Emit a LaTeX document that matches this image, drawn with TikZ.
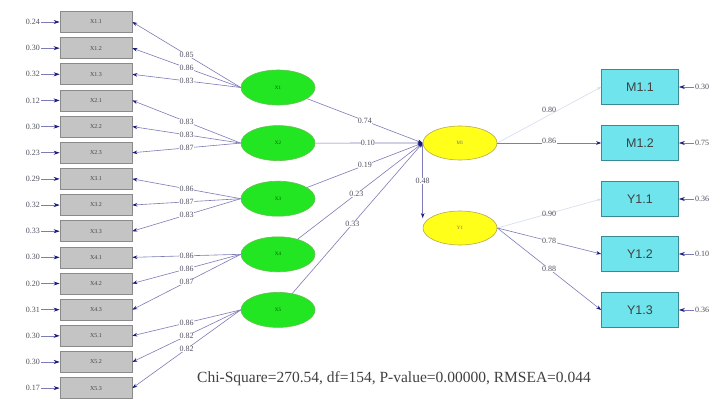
\documentclass[tikz,border=0pt]{standalone}
\usepackage{fontspec}
\setmainfont{Liberation Serif}
\setsansfont{Liberation Sans}
\usetikzlibrary{arrows.meta,shapes.geometric}
\definecolor{boxgray}{HTML}{C4C4C4}
\definecolor{boxedge}{HTML}{8A8A8A}
\definecolor{lvgreen}{HTML}{22E622}
\definecolor{lvgreenedge}{HTML}{66C050}
\definecolor{lvyellow}{HTML}{FFFF1A}
\definecolor{lvyellowedge}{HTML}{B8A850}
\definecolor{obscyan}{HTML}{70E4EC}
\definecolor{obsedge}{HTML}{3A8A96}
\definecolor{pathcol}{HTML}{7C7CB8}
\definecolor{tipcol}{HTML}{1A1A80}
\definecolor{fixcol}{HTML}{D4DCEE}
\definecolor{labcol}{HTML}{505060}
\begin{document}
\begin{tikzpicture}[x=1pt,y=-1pt,
  leftbox/.style={draw=boxedge, line width=0.7pt, fill=boxgray, minimum width=72pt, minimum height=21pt, inner sep=0pt, font=\fontsize{6}{7}\selectfont, text=gray!55!black},
  obsbox/.style={draw=obsedge, line width=0.7pt, fill=obscyan, minimum width=77pt, minimum height=35pt, inner sep=0pt, font=\sffamily\fontsize{12.5}{14}\selectfont, text=black!75},
  greenlv/.style={ellipse, draw=lvgreenedge, line width=0.6pt, fill=lvgreen, minimum width=74pt, minimum height=35pt, inner sep=0pt, font=\fontsize{5}{6}\selectfont, text=green!35!black},
  yellowlv/.style={ellipse, draw=lvyellowedge, line width=0.6pt, fill=lvyellow, minimum width=74pt, minimum height=34pt, inner sep=0pt, font=\fontsize{5}{6}\selectfont, text=black!55, align=center},
  errlab/.style={font=\fontsize{8}{9}\selectfont, text=labcol, inner sep=1pt},
  coef/.style={font=\fontsize{8}{9}\selectfont, text=labcol, fill=white, inner sep=0.3pt},
  pth/.style={draw=pathcol, line width=0.6pt, -{Stealth[length=5pt,width=3.6pt,color=tipcol]}},
  fixpth/.style={draw=fixcol, line width=0.6pt, -{Stealth[length=4pt,width=3pt,color=fixcol]}},
  errarr/.style={draw=pathcol, line width=0.6pt, -{Stealth[length=6pt,width=4pt,color=tipcol]}}
]
\useasboundingbox[fill=white] (0,0) rectangle (720,401);

% left indicator boxes with error terms
\foreach \i/\lab/\err in {1/X1.1/0.24, 2/X1.2/0.30, 3/X1.3/0.32, 4/X2.1/0.12, 5/X2.2/0.30, 6/X2.3/0.23, 7/X3.1/0.29, 8/X3.2/0.32, 9/X3.3/0.33, 10/X4.1/0.30, 11/X4.2/0.20, 12/X4.3/0.31, 13/X5.1/0.30, 14/X5.2/0.30, 15/X5.3/0.17} {
  \node[leftbox] (b\i) at (96,{22+26.15*(\i-1)}) {\lab};
  \node[errlab, anchor=east] (e\i) at (41,{22+26.15*(\i-1)}) {\err};
  \draw[errarr] (e\i) -- (b\i);
}

% green exogenous latent variables
\foreach \g/\lab in {1/X1, 2/X2, 3/X3, 4/X4, 5/X5} {
  \node[greenlv] (g\g) at (278,{87.5+55.6*(\g-1)}) {\lab};
}

% loadings
\foreach \g/\a/\b/\c/\la/\lb/\lc in {1/1/2/3/0.85/0.86/0.83, 2/4/5/6/0.83/0.83/0.87, 3/7/8/9/0.86/0.87/0.83, 4/10/11/12/0.86/0.86/0.87, 5/13/14/15/0.86/0.82/0.82} {
  \draw[pth] (g\g.west) -- node[coef, pos=0.5] {\la} (b\a.east);
  \draw[pth] (g\g.west) -- node[coef, pos=0.5] {\lb} (b\b.east);
  \draw[pth] (g\g.west) -- node[coef, pos=0.5] {\lc} (b\c.east);
}

% yellow endogenous latent variables
\node[yellowlv] (m) at (460,143) {M1};
\node[yellowlv] (y) at (460,228) {Y1};

% structural paths
\draw[pth] (g1) -- node[coef, pos=0.5] {0.74} (m.west);
\draw[pth] (g2) -- node[coef, pos=0.49] {0.10} (m.west);
\draw[pth] (g3) -- node[coef, pos=0.5] {0.19} (m.west);
\draw[pth] (g4) -- node[coef, pos=0.47] {0.23} (m.west);
\draw[pth] (g5) -- node[coef, pos=0.46] {0.33} (m.west);
\draw[pth] (m.west) -- node[coef, pos=0.5] {0.48} (m.west |- y.162);

% right indicator boxes
\node[obsbox] (m11) at (640,87) {M1.1};
\node[obsbox] (m12) at (640,143) {M1.2};
\node[obsbox] (y11) at (640,199) {Y1.1};
\node[obsbox] (y12) at (640,254) {Y1.2};
\node[obsbox] (y13) at (640,310) {Y1.3};

\draw[fixpth] (m.east) -- node[coef, pos=0.5, yshift=5pt, fill=none] {0.80} (m11.west);
\draw[pth] (m.east) -- node[coef, pos=0.5, yshift=2pt] {0.86} (m12.west);
\draw[fixpth] (y.east) -- node[coef, pos=0.5, fill=none] {0.90} (y11.west);
\draw[pth] (y.east) -- node[coef, pos=0.5] {0.78} (y12.west);
\draw[pth] (y.east) -- node[coef, pos=0.5] {0.88} (y13.west);

% right error terms
\foreach \n/\err in {m11/0.30, m12/0.75, y11/0.36, y12/0.10, y13/0.36} {
  \node[errlab, anchor=west] (r\n) at ([xshift=15pt]\n.east) {\err};
  \draw[errarr] (r\n) -- (\n);
}

% fit statistics
\node[font=\fontsize{15.5}{18}\selectfont, text=black!75] (fit) at (394,379) {Chi-Square=270.54, df=154, P-value=0.00000, RMSEA=0.044};
\end{tikzpicture}
\end{document}
